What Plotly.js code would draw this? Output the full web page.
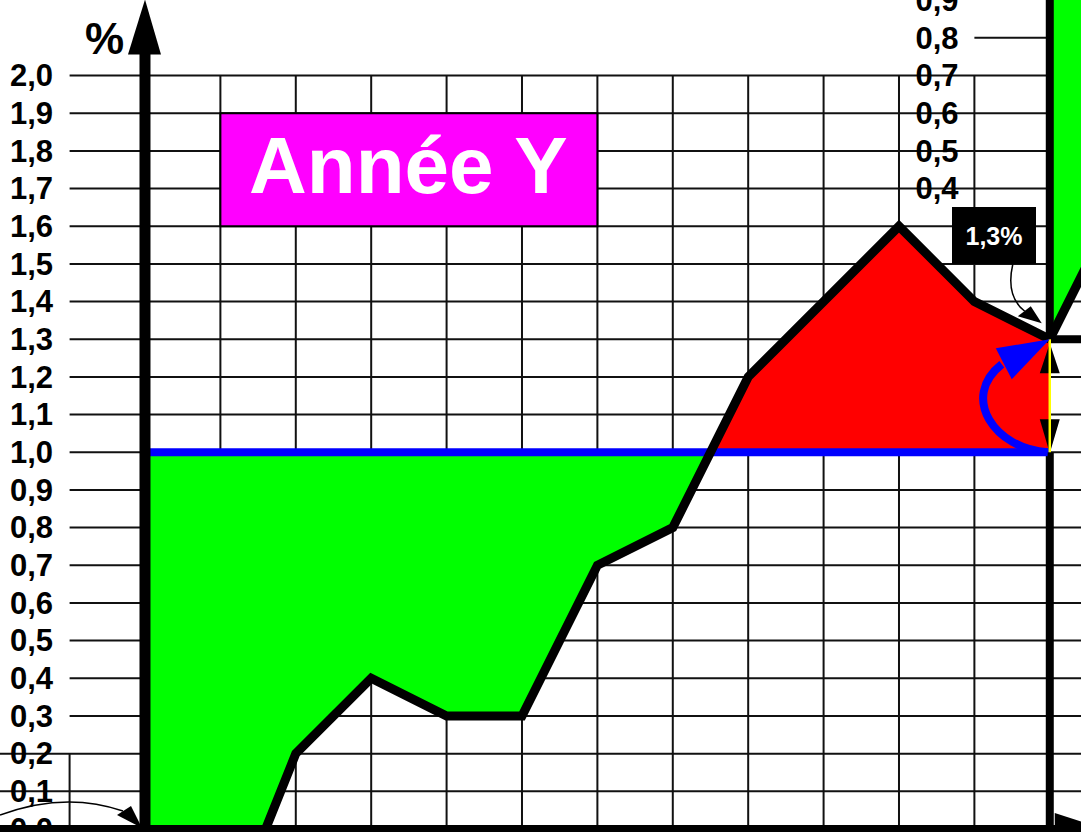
<!DOCTYPE html>
<html><head><meta charset="utf-8">
<script src="https://cdn.plot.ly/plotly-3.0.1.min.js"></script>
<style>html,body{margin:0;padding:0;background:#fff;overflow:hidden}#chart{width:1081px;height:832px}</style>
</head><body><div id="chart"></div>
<script>
// ---- data ----
const months = [0,1,2,3,4,5,6,7,8,9,10,11,12];
const values = [0.0,-0.3,0.2,0.4,0.3,0.3,0.7,0.8,1.2,1.4,1.6,1.4,1.3];
const baseline = 1.0;
const yTicks = [0.0,0.1,0.2,0.3,0.4,0.5,0.6,0.7,0.8,0.9,1.0,1.1,1.2,1.3,1.4,1.5,1.6,1.7,1.8,1.9,2.0];
const yTickText = ['0,0','0,1','0,2','0,3','0,4','0,5','0,6','0,7','0,8','0,9','1,0','1,1','1,2','1,3','1,4','1,5','1,6','1,7','1,8','1,9','2,0'];
const nextMonths = [12,13];
const nextValues = [0.0,0.4];
const nextTicks = [0.4,0.5,0.6,0.7,0.8,0.9];
const nextTickText = ['0,4','0,5','0,6','0,7','0,8','0,9'];
const boxTitle = 'Année Y';
const gapLabel = '1,3%';
const unitLabel = '%';

// ---- view ----
const X_RANGE = [-1.923, 12.414];
const Y_RANGE = [-0.008, 2.2005];
const lastMonth = months[months.length-1];
const lastValue = values[values.length-1];
const Y2_RANGE = [Y_RANGE[0]-lastValue, Y_RANGE[1]-lastValue];
const FONT = 'Liberation Sans, Arial, Helvetica, sans-serif';
const GREEN = '#00FF00', RED = '#FF0000', BLUE = '#0000FF', MAGENTA = '#FF00FF';

// split the area between the curve and the baseline into above/below polygons
function regions(xs, ys, base){
  const out = [];
  let cur = {x:[xs[0]], y:[base], above: ys[0] > base};
  for(let i=0;i<xs.length;i++){
    const ab = ys[i] > base;
    if(i>0 && ab !== cur.above && ys[i] !== base){
      const t = (base - ys[i-1])/(ys[i]-ys[i-1]);
      const xc = xs[i-1] + t*(xs[i]-xs[i-1]);
      cur.x.push(xc); cur.y.push(base); out.push(cur);
      cur = {x:[xc], y:[base], above: ab};
    }
    cur.x.push(xs[i]); cur.y.push(ys[i]);
  }
  cur.x.push(xs[xs.length-1]); cur.y.push(base); out.push(cur);
  return out;
}

const traces = [];
regions(months, values, baseline).forEach(r => {
  traces.push({x:r.x, y:r.y, mode:'lines', fill:'toself', fillcolor: r.above ? RED : GREEN,
    line:{width:0, color:'rgba(0,0,0,0)'}, hoverinfo:'skip', showlegend:false});
});
// next year area (its own axis, baseline 1.0)
traces.push({x:[nextMonths[0]].concat(nextMonths, [nextMonths[nextMonths.length-1]]),
  y:[baseline].concat(nextValues,[baseline]), yaxis:'y2', mode:'lines', fill:'toself', fillcolor:GREEN,
  line:{width:0,color:'rgba(0,0,0,0)'}, hoverinfo:'skip', showlegend:false});
// baseline
traces.push({x:[months[0], lastMonth], y:[baseline, baseline], mode:'lines',
  line:{color:BLUE, width:8}, hoverinfo:'skip', showlegend:false});
// curve
traces.push({x:months, y:values, mode:'lines', line:{color:'#000', width:9}, hoverinfo:'skip', showlegend:false});
traces.push({x:nextMonths, y:nextValues, yaxis:'y2', mode:'lines', line:{color:'#000', width:9}, hoverinfo:'skip', showlegend:false});

// ---- helpers for pixel-offset decorations (dx right, dy down) ----
function pxPath(cmds){
  return cmds.map(c => {
    if(c === 'Z') return 'Z';
    const k = c[0]; const nums = c.slice(1);
    const parts = [];
    for(let i=0;i<nums.length;i+=2) parts.push(nums[i] + ',' + (-nums[i+1]));
    return k + parts.join(' ');
  }).join(' ');
}
function pxShape(ax, ay, cmds, style, yref){
  return Object.assign({type:'path', xref:'x', yref:yref||'y', xsizemode:'pixel', ysizemode:'pixel',
    xanchor:ax, yanchor:ay, path:pxPath(cmds), layer:'above'}, style);
}

const shapes = [];
const GRID = {color:'#111', width:2};
yTicks.forEach(v => {
  if(v <= 0) return;
  shapes.push({type:'line', xref:'x', yref:'y', x0: v <= 0.2 ? X_RANGE[0] : -1, x1: X_RANGE[1], y0:v, y1:v, line:GRID, layer:'below'});
});
months.forEach(m => {
  if(m <= 0 || m >= lastMonth) return;
  shapes.push({type:'line', xref:'x', yref:'y', x0:m, x1:m, y0:0, y1:yTicks[yTicks.length-1], line:GRID, layer:'below'});
});
shapes.push({type:'line', xref:'x', yref:'y', x0:-1, x1:-1, y0:0, y1:0.2, line:GRID, layer:'below'});
shapes.push({type:'line', xref:'x', yref:'y2', x0:lastMonth-1, x1:lastMonth, y0:0.8, y1:0.8, line:GRID, layer:'below'});
// title box
shapes.push({type:'rect', xref:'x', yref:'y', x0:1, x1:6, y0:1.6, y1:1.9, fillcolor:MAGENTA, line:{color:'#000', width:2}, layer:'below'});

// axes
shapes.push({type:'line', xref:'x', yref:'y', x0:X_RANGE[0], x1:X_RANGE[1], y0:0, y1:0, line:{color:'#000', width:8}, layer:'above'});
shapes.push({type:'line', xref:'x', yref:'y', x0:0, x1:0, y0:0, y1:2.1, line:{color:'#000', width:11}, layer:'above'});
shapes.push(pxShape(0, 2.0, [['M',-17,-21],['L',16,-21],['L',0,-76],'Z'], {fillcolor:'#000', line:{width:0}}));
shapes.push({type:'line', xref:'x', yref:'y', x0:lastMonth, x1:lastMonth, y0:0, y1:baseline, line:{color:'#000', width:8}, layer:'above'});
shapes.push({type:'line', xref:'x', yref:'y2', x0:lastMonth, x1:lastMonth, y0:0, y1:1.0, line:{color:'#000', width:8}, layer:'above'});
shapes.push({type:'line', xref:'x', yref:'y2', x0:lastMonth, x1:X_RANGE[1], y0:0, y1:0, line:{color:'#000', width:8}, layer:'above'});
shapes.push(pxShape(lastMonth, 0, [['M',5,-16],['L',5,16],['L',55,0],'Z'], {fillcolor:'#000', line:{width:0}}));

// double arrow between baseline and last value
shapes.push(pxShape(lastMonth, lastValue, [['M',0,4],['L',10,34],['L',-10,34],'Z'], {fillcolor:'#000', line:{width:0}}));
shapes.push(pxShape(lastMonth, lastValue, [['M',-10,80],['L',10,80],['L',0,114],'Z'], {fillcolor:'#000', line:{width:0}}));
shapes.push({type:'line', xref:'x', yref:'y', x0:lastMonth, x1:lastMonth, y0:baseline, y1:lastValue, line:{color:'#FFFF00', width:2.5}, layer:'above'});

// blue curved arrow
shapes.push(pxShape(lastMonth, baseline, [['M',-2,0],['C',-55,-3,-90,-55,-48,-88]], {line:{color:BLUE, width:8}, fillcolor:'rgba(0,0,0,0)'}));
shapes.push(pxShape(lastMonth, baseline, [['M',-54,-104],['L',0,-113],['L',-38,-73],'Z'], {fillcolor:BLUE, line:{width:0}}));

// label arrow
shapes.push(pxShape(lastMonth, lastValue, [['M',-37,-75],['C',-42,-53,-38,-38,-25,-28]], {line:{color:'#000', width:1.5}, fillcolor:'rgba(0,0,0,0)'}));
shapes.push(pxShape(lastMonth, lastValue, [['M',-32,-23],['L',-8,-16],['L',-19,-33],'Z'], {fillcolor:'#000', line:{width:0}}));

// arrow from previous year
shapes.push(pxShape(0, 0, [['M',-145,-14],['Q',-80,-38,-22,-18]], {line:{color:'#000', width:1.5}, fillcolor:'rgba(0,0,0,0)'}));
shapes.push(pxShape(0, 0, [['M',-28,-14],['L',-14,-23],['L',-3,-1],'Z'], {fillcolor:'#000', line:{width:0}}));

const annotations = [
  {x:0, y:2.0, xref:'x', yref:'y', text:unitLabel, showarrow:false, xshift:-40, yshift:37,
   font:{family:FONT, size:44, weight:'bold', color:'#000'}},
  {x:3.5, y:1.75, xref:'x', yref:'y', text:boxTitle, showarrow:false, yshift:4,
   font:{family:FONT, size:80, weight:'bold', color:'#fff'}},
  {x:lastMonth, y:lastValue, xref:'x', yref:'y', text:gapLabel, showarrow:false, xshift:-56, yshift:103.5,
   width:84, height:57, bgcolor:'#000', borderpad:0, borderwidth:0,
   font:{family:FONT, size:25, weight:'bold', color:'#fff'}}
];

const tickFont = {family:FONT, size:31, weight:'bold', color:'#000'};
const layout = {
  width:1081, height:832, margin:{l:0,r:0,t:0,b:0,pad:0},
  paper_bgcolor:'#fff', plot_bgcolor:'#fff', showlegend:false,
  xaxis:{range:X_RANGE, showgrid:false, zeroline:false, showticklabels:false, ticks:'', showline:false, fixedrange:true},
  yaxis:{range:Y_RANGE, tickvals:yTicks, ticktext:yTickText, ticks:'', showgrid:false, zeroline:false, showline:false,
    ticklabelposition:'inside', ticklabelstandoff:7, ticklabeloverflow:'allow', tickfont:tickFont, fixedrange:true},
  yaxis2:{range:Y2_RANGE, overlaying:'y', anchor:'free', position:0.8868, side:'left', tickvals:nextTicks, ticktext:nextTickText,
    ticks:'', showgrid:false, zeroline:false, showline:false, ticklabeloverflow:'allow', tickfont:tickFont, fixedrange:true},
  shapes:shapes, annotations:annotations
};
Plotly.newPlot('chart', traces, layout, {staticPlot:true, displayModeBar:false});
</script></body></html>
